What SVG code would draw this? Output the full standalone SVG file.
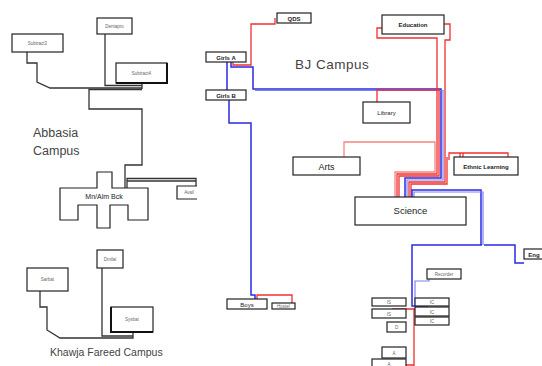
<svg xmlns="http://www.w3.org/2000/svg" width="542" height="366" viewBox="0 0 542 366">
<style>
.box{fill:#fff;stroke:#222;stroke-width:1.2}
.sh{fill:none;stroke:#111;stroke-width:2}
.t{font-family:"Liberation Sans",Arial,sans-serif;fill:#222;text-anchor:middle}
.s{font-size:4.5px;fill:#666}
.m{font-size:6px}
.k{fill:none;stroke:#333;stroke-width:1.3}
.r{fill:none;stroke:#f03030;stroke-width:1.3}
.b{fill:none;stroke:#2a2ae8;stroke-width:1.5}
.lb{fill:none;stroke:#8080f0;stroke-width:1.2}
.big{font-family:"Liberation Sans",Arial,sans-serif;fill:#444}
</style>
<rect width="542" height="366" fill="#fff"/>
<g id="connectors">
<path class="k" d="M27,52 V63 H37 V82 L50,88 H142"/>
<path class="k" d="M105,34 V85.5 H142"/>
<path class="k" d="M142,83 V89"/>
<path class="k" d="M142,89.5 H89 V109 H142 V165 H125 V188"/>
<path class="k" d="M127,188 V178.5 H196 V186"/>
<path class="k" d="M127,181 H196" stroke-width="0.8"/>
<path class="k" d="M40,291 V307 H47 V330 L60,338 H133 V332"/>
<path class="k" d="M102,268 V336 H133"/>
<path class="r" d="M233,62 V65 H251 V24 H275 V18"/>
<path class="b" d="M231,62 V67 H253 V89 H441 V178 H405 V197"/>
<path class="lb" d="M255,90.5 H443 V180 H407 V197"/>
<path class="b" d="M227,62 V90"/>
<path class="b" d="M229,100 V123 H251 V295 H255 V299"/>
<path class="r" d="M257,299 V295 H292 V303"/>
<path class="r" d="M382,28 H377 V38 H437 V174 H397 V197"/>
<path class="r" d="M444,24 H450 V40 H445 V182 H409 V197"/>
<path class="r" d="M377,102 V90 H439 V176 H399 V197"/>
<path class="r" d="M344,157 V142 H435 V172 H395 V197" stroke-opacity="0.6"/>
<path class="r" d="M447,157 V184 H411 V197"/>
<path class="r" d="M449,160 V153 H508 V157 M460,153 V157 M463,153 V157"/>
<path class="b" d="M412,197 V190 H481 V245"/>
<path class="lb" d="M414,197 V192 H483 V245"/>
<path class="b" d="M482,245 H412 V306 H428"/>
<path class="b" d="M484,245 H515 V263 H524"/>
<path class="lb" d="M429,279 V281 H415 V305"/>
<path class="r" d="M392,309 H414 H427 M414,309 V366 M403,365 H414" stroke-width="2"/>
</g>
<g id="n-sub3"><rect class="box" x="12" y="34" width="51" height="18"/><text class="t s" x="37.5" y="45">Subtract3</text></g>
<g id="n-dent"><rect class="box" x="97" y="18" width="35" height="16"/><text class="t s" x="114.5" y="28">Dentapro</text></g>
<g id="n-sub4"><rect class="box" x="116" y="63" width="51" height="20"/><path class="sh" d="M116,83 H167 V63"/><text class="t s" x="141.5" y="75">Subtract4</text></g>
<g id="n-admin"><path class="box" d="M60,188 H97 V172 H112 V188 H148 V220 H128 V205 H110 V228 H97 V205 H78 V220 H60 Z"/><text class="t" x="104" y="198.5" font-size="7">Mn/Alm Bck</text></g>
<g id="n-avail"><path class="box" d="M197,186 H177 V199 H197"/><text class="t s" x="189" y="194">Avail</text></g>
<g id="l-abbasia"><text class="big" x="33" y="137" font-size="12.5">Abbasia</text><text class="big" x="33" y="155" font-size="12.5">Campus</text></g>
<g id="n-sarbat"><rect class="box" x="27" y="268" width="41" height="23"/><text class="t s" x="47.5" y="281">Sarbat</text></g>
<g id="n-dmilai"><rect class="box" x="97" y="250" width="26" height="18"/><text class="t s" x="110" y="261">Dmilai</text></g>
<g id="n-sysbat"><rect class="box" x="111" y="307" width="42" height="25"/><path class="sh" d="M111,307 V332 H153"/><text class="t s" x="132" y="321">Sysbat</text></g>
<g id="l-khawja"><text class="big" x="50" y="356" font-size="10.5">Khawja  Fareed Campus</text></g>
<g id="l-bj"><text class="big" x="295" y="69" font-size="13.5" letter-spacing="0.5">BJ Campus</text></g>
<g id="n-qds"><rect class="box" x="277" y="13" width="34" height="10"/><text class="t m" x="294" y="20.5" font-weight="bold">QDS</text></g>
<g id="n-girlsa"><rect class="box" x="206" y="52" width="40" height="10"/><text class="t m" x="226" y="59.5" font-weight="bold">Girls A</text></g>
<g id="n-girlsb"><rect class="box" x="206" y="90" width="40" height="10"/><text class="t m" x="226" y="97.5" font-weight="bold">Girls B</text></g>
<g id="n-boys"><rect class="box" x="227" y="299" width="40" height="10"/><text class="t m" x="247" y="307" font-size="7">Boys</text></g>
<g id="n-hostel"><rect class="box" x="272" y="303" width="23" height="6" stroke="#555"/><text class="t s" x="283.5" y="308" font-size="3.5">Hostel</text></g>
<g id="n-edu"><rect class="box" x="382" y="15" width="62" height="19"/><text class="t m" x="413" y="27" font-weight="bold">Education</text></g>
<g id="n-lib"><rect class="box" x="363" y="102" width="47" height="21"/><text class="t m" x="386.5" y="115" font-size="7">Library</text></g>
<g id="n-arts"><rect class="box" x="293" y="157" width="67" height="18"/><text class="t" x="326.5" y="169.5" font-size="9">Arts</text></g>
<g id="n-ethnic"><rect class="box" x="454" y="157" width="64" height="18"/><text class="t m" x="486" y="168.5" font-weight="bold" font-size="5.5">Ethnic Learning</text></g>
<g id="n-science"><rect class="box" x="355" y="197" width="111" height="28"/><text class="t" x="410.5" y="214" font-size="9.5">Science</text></g>
<g id="n-eng"><rect class="box" x="524" y="249" width="20" height="10"/><text class="t m" x="534" y="256.5" font-weight="bold">Eng</text></g>
<g id="n-rec"><rect class="box" x="427" y="269" width="34" height="10"/><text class="t s" x="444" y="276">Recorder</text></g>
<g id="n-is1"><rect class="box" x="372" y="298" width="34" height="8"/><text class="t s" x="389" y="304">IS</text></g>
<g id="n-is2"><rect class="box" x="372" y="309" width="34" height="9"/><text class="t s" x="389" y="315.5">IS</text></g>
<g id="n-d"><rect class="box" x="387" y="322" width="19" height="10"/><text class="t s" x="396.5" y="329">D</text></g>
<g id="n-ic1"><rect class="box" x="415" y="298" width="34" height="8"/><text class="t s" x="432" y="304">IC</text></g>
<g id="n-ic2"><rect class="box" x="415" y="307" width="34" height="9"/><text class="t s" x="432" y="313.5">IC</text></g>
<g id="n-ic3"><rect class="box" x="415" y="317" width="34" height="8"/><text class="t s" x="432" y="323">IC</text></g>
<g id="n-a1"><rect class="box" x="382" y="347" width="24" height="11"/><text class="t s" x="394" y="355">A</text></g>
<g id="n-a2"><rect class="box" x="372" y="359" width="34" height="10"/><text class="t s" x="389" y="365.5">A</text></g>
</svg>
